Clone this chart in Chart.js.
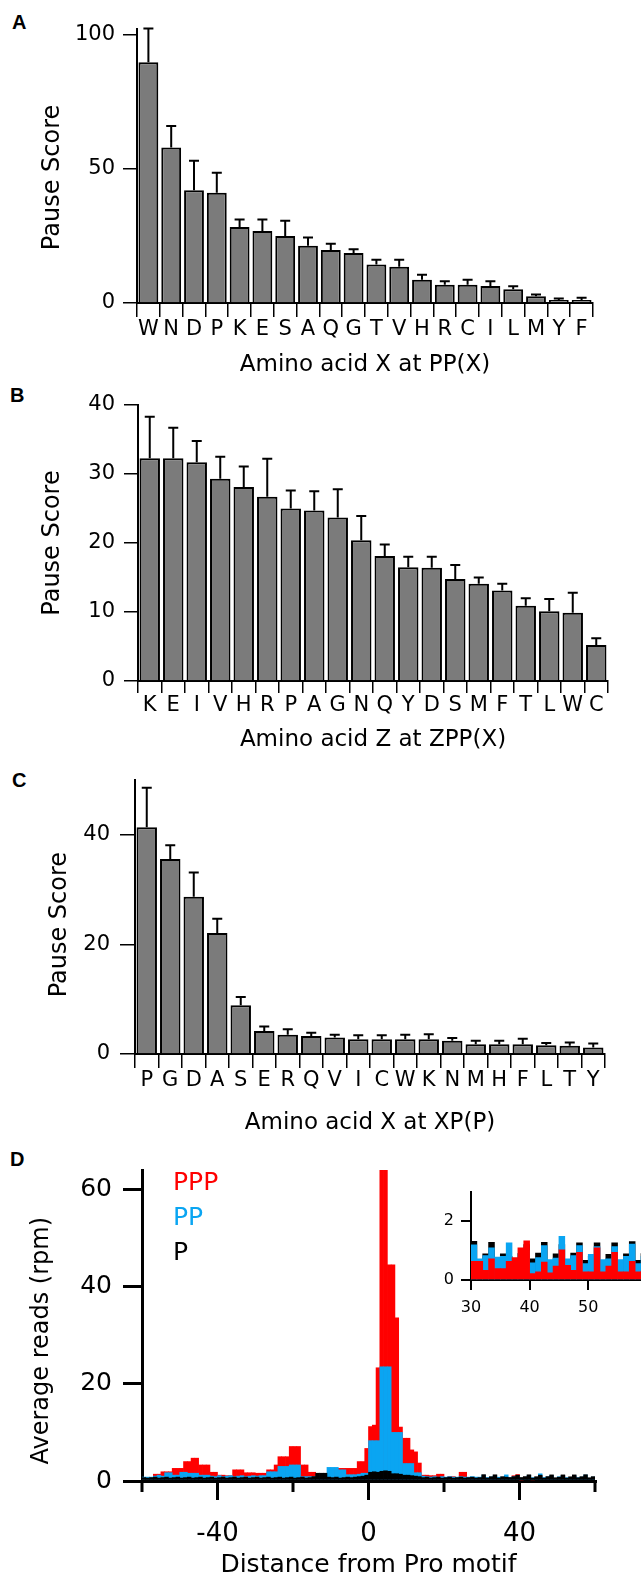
<!DOCTYPE html>
<html>
<head>
<meta charset="utf-8">
<script src="https://cdn.jsdelivr.net/npm/chart.js@4.4.1/dist/chart.umd.min.js"></script>
<style>
  body { margin: 0; background: #fff; width: 641px; height: 1580px; overflow: hidden; position: relative; }
  canvas { position: absolute; left: 0; }
  .tag { position: absolute; font: bold 20px "Liberation Sans", Arial, sans-serif; line-height: 20px; }
</style>
</head>
<body>
<div class="tag" style="left:12px;top:12px">A</div>
<div class="tag" style="left:10px;top:385px">B</div>
<div class="tag" style="left:12px;top:770px">C</div>
<div class="tag" style="left:10px;top:1149px">D</div>
<canvas id="chartA" width="641" height="380" style="top:0"></canvas>
<canvas id="chartB" width="641" height="375" style="top:380px"></canvas>
<canvas id="chartC" width="641" height="383" style="top:755px"></canvas>
<canvas id="chartD" width="641" height="442" style="top:1138px"></canvas>
<canvas id="inset" width="241" height="150" style="top:1175px;left:400px"></canvas>
<script>
// panel A: amino acid X at PP(X)
const aaA = ['W','N','D','P','K','E','S','A','Q','G','T','V','H','R','C','I','L','M','Y','F'];
const scoreA = [89.6,57.9,42.0,41.0,28.3,26.8,24.9,21.3,19.7,18.6,14.3,13.5,8.7,6.8,6.8,6.3,5.1,2.5,1.1,1.1];
const errA = [12.6,8.0,11.0,7.5,2.8,4.3,5.7,3.1,2.4,1.4,1.8,2.6,1.8,1.3,1.9,1.8,1.1,0.7,0.6,0.9];
const ticksA = [0, 50, 100];

// panel B: amino acid Z at ZPP(X)
const aaB = ['K','E','I','V','H','R','P','A','G','N','Q','Y','D','S','M','F','T','L','W','C'];
const scoreB = [32.3,32.3,31.7,29.3,28.1,26.7,25.0,24.7,23.7,20.4,18.1,16.5,16.4,14.8,14.1,13.1,10.9,10.1,9.9,5.2];
const errB = [6.0,4.4,3.1,3.2,3.0,5.5,2.6,2.8,4.1,3.5,1.7,1.5,1.6,2.0,0.9,1.0,1.1,1.8,2.9,1.0];
const ticksB = [0, 10, 20, 30, 40];

// panel C: amino acid X at XP(P)
const aaC = ['P','G','D','A','S','E','R','Q','V','I','C','W','K','N','M','H','F','L','T','Y'];
const scoreC = [41.4,35.6,28.7,22.1,8.9,4.2,3.5,3.3,3.0,2.7,2.7,2.7,2.7,2.4,1.8,1.8,1.8,1.6,1.5,1.2];
const errC = [7.2,2.5,4.4,2.6,1.5,0.8,1.0,0.6,0.5,0.7,0.7,0.8,0.9,0.5,0.6,0.6,1.0,0.4,0.6,0.7];
const ticksC = [0, 20, 40];

// panel D: average reads per position, bins -60 .. 59
const dist = Array.from({length: 120}, (_, i) => i - 60);
const ppp = [
  0.5,0.5,0.7,1.4,1.4,1.9,1.9,1.9,2.6,2.6,
  2.6,4.0,4.0,4.7,4.7,3.3,3.3,3.3,1.8,1.8,
  1.2,1.2,1.1,1.1,2.3,2.3,2.3,1.7,1.7,1.7,
  1.6,1.6,1.6,2.3,2.3,3.3,5.0,5.0,5.0,7.1,
  7.1,7.1,3.3,3.3,1.8,1.8,0.8,0.8,0.8,1.5,
  1.8,2.6,2.6,2.6,2.6,2.6,2.6,4.0,4.0,6.7,
  11.2,11.5,23.3,64,64,44.5,44.5,33.6,11.1,8.8,
  8.8,6.4,6.0,3.7,1.2,1.2,1.1,1.1,1.4,1.4,
  0.7,0.9,0.9,0.7,1.8,1.8,0.6,0.6,0.5,0.6,
  0.63,0.63,0.33,0.72,0.39,0.39,0.63,0.76,1.09,1.33,
  0.22,0.28,0.61,0.24,0.47,1.02,0.5,0.33,0.94,0.28,
  0.28,1.09,0.28,0.47,0.94,0.28,0.28,0.63,0.28,0.3];
const pp = [
  0.8,0.8,0.8,1.0,1.2,1.0,1.7,1.7,1.2,1.2,
  1.8,1.8,1.6,1.6,1.6,1.2,1.2,1.2,1.0,0.9,
  1.1,0.9,1.0,1.1,0.9,1.0,1.1,0.9,1.0,1.1,
  1.0,1.1,1.1,1.9,1.9,1.9,3.0,3.0,3.0,3.3,
  3.3,3.3,0.9,0.9,0.9,0.9,1.0,1.0,1.0,2.8,
  2.8,2.8,2.3,2.3,1.3,1.3,1.3,1.4,1.6,1.6,
  8.3,8.3,8.3,23.5,23.5,23.5,10.0,10.0,10.0,3.6,
  3.6,3.6,1.7,1.7,1.0,0.9,0.8,0.9,0.8,0.9,
  0.8,0.9,0.8,0.8,0.9,0.8,0.8,0.9,0.8,0.8,
  1.19,0.72,0.83,1.09,0.78,0.80,1.26,0.7,0.9,1.0,
  0.58,0.76,1.17,0.69,0.74,1.48,0.72,0.83,1.17,0.56,
  0.87,1.13,0.69,0.72,1.13,0.69,0.80,1.22,0.56,0.8];
const p1 = [
  0.7,0.6,0.7,0.8,0.6,0.7,0.8,0.6,0.7,0.8,
  0.6,0.7,0.8,0.6,0.7,0.8,0.6,0.7,0.8,0.6,
  0.7,0.8,0.6,0.7,0.8,0.6,0.7,0.8,0.6,0.7,
  0.8,0.6,0.7,0.8,0.6,0.7,0.8,0.6,0.7,0.8,
  0.6,0.7,0.8,0.6,0.7,0.9,1.6,1.6,1.6,0.8,
  0.7,0.8,0.6,0.7,0.8,0.7,0.8,0.9,1.0,1.2,
  1.8,1.9,1.8,2.0,2.1,2.0,1.5,1.5,1.4,1.2,
  1.2,1.1,1.0,0.9,0.7,0.8,0.6,0.7,0.8,0.6,
  0.7,0.8,0.6,0.7,0.8,0.6,0.7,0.8,0.6,0.7,
  1.31,0.6,0.89,1.28,0.6,0.89,0.8,0.7,0.9,1.2,
  0.72,0.91,1.28,0.6,0.89,1.2,0.6,0.91,1.26,0.67,
  0.8,1.26,0.6,0.87,1.26,0.67,0.89,1.3,0.67,0.9];
const readTicks = [0, 20, 40, 60];
const distTicks = [-40, 0, 40];
const distMinor = [-60, -20, 20, 60];
const insetTicksX = [30, 40, 50];
const insetTicksY = [0, 2];

Chart.defaults.font.family = "'DejaVu Sans', sans-serif";
Chart.defaults.color = '#000';

const fixedTicks = vals => s => { s.ticks = vals.map(v => ({ value: v })); };
// trailing no-break spaces nudge a centred rotated title down the axis
const nudge = (text, n) => text + '\u00a0'.repeat(n);

const errorBars = {
  id: 'errorBars',
  afterDatasetsDraw(chart, args, opts) {
    const {ctx} = chart;
    const y = chart.scales.y;
    const meta = chart.getDatasetMeta(0);
    const vals = chart.data.datasets[0].data;
    ctx.save();
    ctx.strokeStyle = '#000';
    ctx.lineWidth = 2;
    meta.data.forEach((bar, i) => {
      const top = y.getPixelForValue(vals[i] + opts.errs[i]);
      ctx.beginPath();
      ctx.moveTo(bar.x, bar.y);
      ctx.lineTo(bar.x, top);
      ctx.moveTo(bar.x - 5, top);
      ctx.lineTo(bar.x + 5, top);
      ctx.stroke();
    });
    ctx.restore();
  }
};

function pauseChart(id, labels, values, errs, o) {
  return new Chart(document.getElementById(id), {
    type: 'bar',
    data: {
      labels: labels,
      datasets: [{
        data: values,
        backgroundColor: '#7b7b7b',
        borderColor: '#000',
        borderWidth: 2,
        barPercentage: 0.87,
        categoryPercentage: 1
      }]
    },
    options: {
      responsive: false,
      animation: false,
      layout: { padding: { top: o.padTop, right: o.padRight, left: 0, bottom: 0 } },
      plugins: { legend: { display: false }, tooltip: { enabled: false }, errorBars: { errs: errs } },
      scales: {
        x: {
          grid: { offset: true, drawOnChartArea: false, tickLength: o.xTick, color: '#000', lineWidth: 1.5 },
          border: { color: '#000', width: 2 },
          ticks: { padding: 0, font: { size: 21 }, autoSkip: false, maxRotation: 0 },
          title: { display: true, text: o.xTitle, font: { size: 23 }, padding: { top: 0, bottom: 1 } },
          afterFit: s => { s.height = o.xHeight; }
        },
        y: {
          min: 0,
          max: o.max,
          afterBuildTicks: fixedTicks(o.ticks),
          ticks: { padding: o.yPad, font: { size: 21 } },
          grid: { drawOnChartArea: false, tickLength: o.yTick, color: '#000', lineWidth: 1.5 },
          border: { color: '#000', width: 2 },
          title: { display: true, text: nudge('Pause Score', o.nudge), font: { size: 24 }, padding: { top: o.titleOff, bottom: 0 } },
          afterFit: s => { s.width = o.left; }
        }
      }
    },
    plugins: [errorBars]
  });
}

pauseChart('chartA', aaA, scoreA, errA, { padTop: 29, padRight: 48, xHeight: 77, left: 137, max: 102, ticks: ticksA,
  xTick: 14, yTick: 14, yPad: 8, titleOff: 38.6, nudge: 3, xTitle: 'Amino acid X at PP(X)' });
pauseChart('chartB', aaB, scoreB, errB, { padTop: 25, padRight: 33, xHeight: 74, left: 138, max: 40, ticks: ticksB,
  xTick: 12, yTick: 14, yPad: 9, titleOff: 38.6, nudge: 0, xTitle: 'Amino acid Z at ZPP(X)' });
pauseChart('chartC', aaC, scoreC, errC, { padTop: 25, padRight: 36, xHeight: 84, left: 135, max: 50, ticks: ticksC,
  xTick: 14, yTick: 15, yPad: 10, titleOff: 45.6, nudge: 2, xTitle: 'Amino acid X at XP(P)' });

const toPts = vals => vals.map((v, i) => ({ x: dist[i] + 0.5, y: v }));
const red = '#ff0000', blue = '#0aa5f2', black = '#000000';

function motifSets(orders) {
  return [
    { label: 'PPP', data: toPts(ppp), backgroundColor: red, order: orders[0] },
    { label: 'PP', data: toPts(pp), backgroundColor: blue, order: orders[1] },
    { label: 'P', data: toPts(p1), backgroundColor: black, order: orders[2] }
  ].map(d => Object.assign(d, { grouped: false, barPercentage: 1, categoryPercentage: 1, borderWidth: 0 }));
}

const seqLegend = {
  id: 'seqLegend',
  afterDraw(chart) {
    const {ctx, chartArea} = chart;
    ctx.save();
    ctx.font = "25px 'DejaVu Sans'";
    ctx.textBaseline = 'middle';
    chart.data.datasets.forEach((ds, i) => {
      ctx.fillStyle = ds.backgroundColor;
      ctx.fillText(ds.label, chartArea.left + 31, chartArea.top + 13 + i * 35);
    });
    ctx.restore();
  }
};

const minorTicks = {
  id: 'minorTicks',
  afterDraw(chart) {
    const {ctx, chartArea} = chart;
    const x = chart.scales.x;
    ctx.save();
    ctx.strokeStyle = '#000';
    ctx.lineWidth = 3;
    distMinor.forEach(v => {
      const px = x.getPixelForValue(v);
      ctx.beginPath();
      ctx.moveTo(px, chartArea.bottom);
      ctx.lineTo(px, chartArea.bottom + 11);
      ctx.stroke();
    });
    ctx.restore();
  }
};

new Chart(document.getElementById('chartD'), {
  type: 'bar',
  data: { datasets: motifSets([3, 2, 1]) },
  options: {
    responsive: false,
    animation: false,
    layout: { padding: { top: 32, right: 46, left: 0, bottom: 0 } },
    plugins: { legend: { display: false }, tooltip: { enabled: false } },
    scales: {
      x: {
        type: 'linear', min: -60, max: 60, offset: false,
        afterBuildTicks: fixedTicks(distTicks),
        grid: { offset: false, drawOnChartArea: false, tickLength: 19, color: '#000', lineWidth: 3 },
        border: { color: '#000', width: 3 },
        ticks: { padding: 19, font: { size: 26 } },
        title: { display: true, text: 'Distance from Pro motif', font: { size: 25 }, padding: { top: 0, bottom: 0 } },
        afterFit: s => { s.height = 99; }
      },
      y: {
        min: 0, max: 64,
        afterBuildTicks: fixedTicks(readTicks),
        ticks: { padding: 11, font: { size: 25 } },
        grid: { drawOnChartArea: false, tickLength: 19, color: '#000', lineWidth: 3 },
        border: { color: '#000', width: 3 },
        title: { display: true, text: nudge('Average reads (rpm)', 4), font: { size: 24 }, padding: { top: 27.6, bottom: 0 } },
        afterFit: s => { s.width = 142; }
      }
    }
  },
  plugins: [seqLegend, minorTicks]
});

new Chart(document.getElementById('inset'), {
  type: 'bar',
  data: { datasets: motifSets([1, 2, 3]) },
  options: {
    responsive: false,
    animation: false,
    layout: { padding: { top: 15, right: 0, left: 0, bottom: 0 } },
    plugins: { legend: { display: false }, tooltip: { enabled: false } },
    scales: {
      x: {
        type: 'linear', min: 30, max: 59, offset: false,
        afterBuildTicks: fixedTicks(insetTicksX),
        grid: { offset: false, drawOnChartArea: false, tickLength: 10, color: '#000', lineWidth: 2 },
        border: { color: '#000', width: 2 },
        ticks: { padding: 8, font: { size: 16 } },
        afterFit: s => { s.height = 45; }
      },
      y: {
        min: 0, max: 3,
        afterBuildTicks: fixedTicks(insetTicksY),
        ticks: { padding: 7, font: { size: 16 } },
        grid: { drawOnChartArea: false, tickLength: 10, color: '#000', lineWidth: 2 },
        border: { color: '#000', width: 2 },
        afterFit: s => { s.width = 71; }
      }
    }
  }
});
</script>
</body>
</html>
